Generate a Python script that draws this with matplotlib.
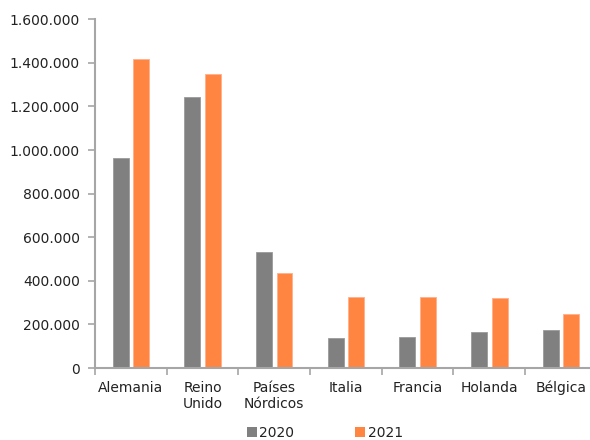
import matplotlib
matplotlib.use("Agg")
import matplotlib.pyplot as plt
import numpy as np
from matplotlib.ticker import FuncFormatter, FixedLocator
from matplotlib.patches import Patch

categories = ["Alemania", "Reino\nUnido", "Países\nNórdicos", "Italia", "Francia", "Holanda", "Bélgica"]
series_names = ["2020", "2021"]
values_2020 = [965000, 1243000, 534000, 139000, 141000, 167000, 176000]
values_2021 = [1418000, 1349000, 437000, 327000, 325000, 323000, 249000]
y_ticks = [0, 200000, 400000, 600000, 800000, 1000000, 1200000, 1400000, 1600000]

gray = "#808080"
orange = "#FF8541"
spine_col = "#A6A6A6"

plt.rcParams['font.family'] = ['DejaVu Sans']
fig = plt.figure(figsize=(5.9, 4.4), dpi=100)
ax = fig.add_axes([95/590, 1-368/440, (596.7-95)/590, (368-19.3)/440])

x = np.arange(len(categories))
w = 0.223
off = 0.144
ax.bar(x - off, values_2020, width=w, color=gray, edgecolor="#9a9a9a", linewidth=0.6)
ax.bar(x + off, values_2021, width=w, color=orange, edgecolor="#FFB08A", linewidth=0.6)

ax.set_xlim(-0.5, len(categories) - 0.5)
ax.set_ylim(0, 1600000)
ax.set_yticks(y_ticks)
ax.yaxis.set_major_formatter(FuncFormatter(lambda v, p: f"{int(v):,}".replace(",", ".")))

ax.set_xticks(x)
ax.set_xticklabels(categories, fontsize=10, color="#222222", linespacing=1.25)
ax.xaxis.set_minor_locator(FixedLocator(np.arange(-0.5, len(categories), 1.0)))
ax.tick_params(axis="x", which="major", length=0, pad=9)
ax.tick_params(axis="x", which="minor", length=5, width=1.2, color=spine_col, direction="out")
ax.tick_params(axis="y", length=5, width=1.2, color=spine_col, direction="out", labelsize=10, labelcolor="#222222", pad=6)

for s in ["top", "right"]:
    ax.spines[s].set_visible(False)
for s in ["left", "bottom"]:
    ax.spines[s].set_color(spine_col)
    ax.spines[s].set_linewidth(1.5)

handles = [Patch(facecolor=gray, edgecolor="none"), Patch(facecolor=orange, edgecolor="none")]
fig.legend(handles, series_names, loc="center", bbox_to_anchor=(325/590, 1-433/440),
           ncol=2, frameon=False, fontsize=10, handlelength=0.7, handleheight=0.7,
           handletextpad=0.2, columnspacing=4.4, labelcolor="#222222")

fig.savefig("out.png", dpi=100)
